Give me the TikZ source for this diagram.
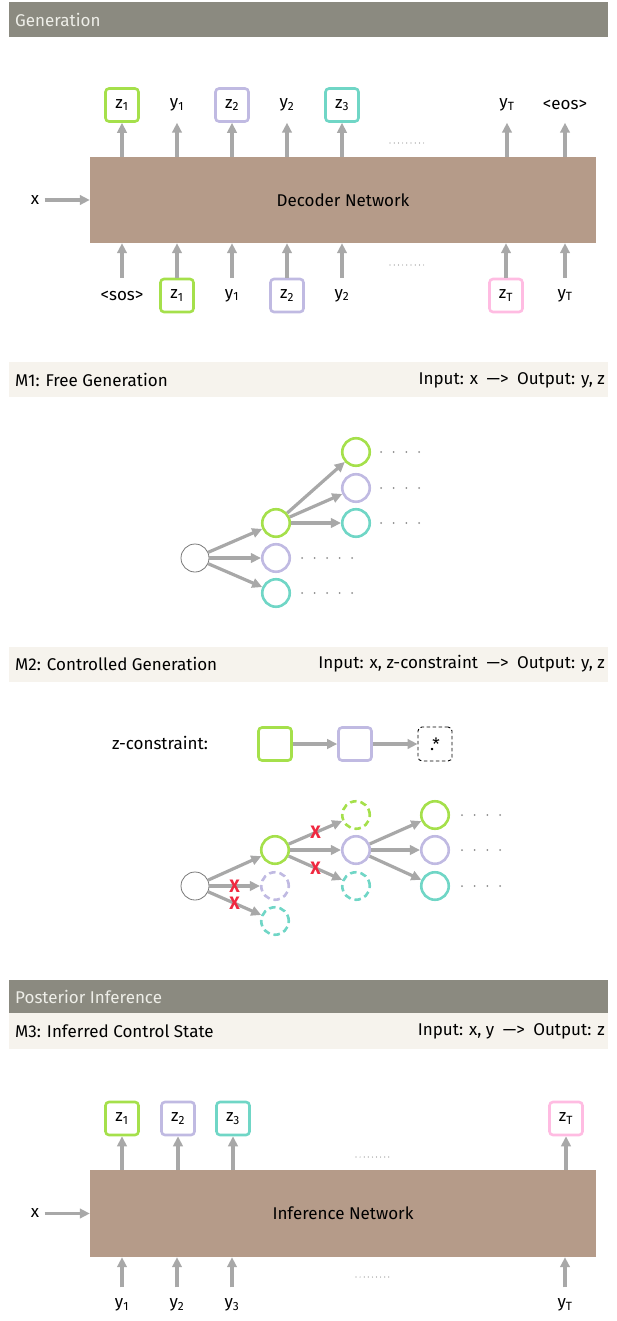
\documentclass[tikz,border=0pt]{standalone}
\usepackage{fontspec}
\setmainfont{Fira Sans}
\usetikzlibrary{arrows.meta}
\definecolor{hdark}{RGB}{139,138,128}
\definecolor{hlight}{RGB}{246,243,237}
\definecolor{htext}{RGB}{238,238,232}
\definecolor{netbrown}{RGB}{181,155,137}
\definecolor{arrgray}{RGB}{168,168,168}
\definecolor{dotgray}{RGB}{140,140,140}
\definecolor{rootgray}{RGB}{120,120,120}
\definecolor{zgreen}{RGB}{165,224,75}
\definecolor{zpurple}{RGB}{192,186,226}
\definecolor{zteal}{RGB}{112,214,198}
\definecolor{zpink}{RGB}{255,188,226}
\definecolor{xred}{RGB}{240,40,64}
\def\dotrow(#1,#2)(#3:#4:#5){\foreach \i in {1,...,#3} \fill[dotgray] ({#1+(\i-1)*#4},#2) circle[radius=#5pt];}
\tikzset{
  arr/.style={draw=arrgray, line width=3.2pt, -{Triangle[length=10pt,width=9.5pt]}},
  zbox/.style={draw=#1, line width=2.6pt, rounded corners=3.5pt, minimum width=33pt, minimum height=33pt, inner sep=0pt, fill=white},
  lbl/.style={minimum height=35pt, inner sep=0pt},
  net/.style={fill=netbrown, minimum width=506pt, inner sep=0pt},
  zc/.style={circle, draw=#1, line width=2.6pt, minimum size=27.5pt, inner sep=0pt},
  zcd/.style={zc=#1, dash pattern=on 6.5pt off 4pt},
  rootc/.style={circle, draw=rootgray, line width=0.8pt, minimum size=28pt, inner sep=0pt, fill=white},
  xmark/.style={text=xred, font=\fontsize{18}{18}\selectfont\bfseries, inner sep=0pt},
  barl/.style={anchor=west, inner sep=0pt},
  barr/.style={anchor=east, inner sep=0pt}
}
\begin{document}
\begin{tikzpicture}[x=1pt,y=-1pt,font=\fontsize{17}{20}\selectfont]
\useasboundingbox (0,0) rectangle (616,1321);

\fill[hdark] (9,2) rectangle (608,37);
\node[barl, text=htext] (genhd) at (15,20) {Generation};

\node[net, minimum height=86pt] (dec) at (343,200) {Decoder Network};
\node (dx) at (35,200) {x};
\draw[arr, shorten <=2pt] (dx) -- (dec);

\node[zbox=zgreen] (dz1) at (122,105) {z\textsubscript{1}};
\node[lbl] (dy1) at (177,105) {y\textsubscript{1}};
\node[zbox=zpurple] (dz2) at (232,105) {z\textsubscript{2}};
\node[lbl] (dy2) at (287,105) {y\textsubscript{2}};
\node[zbox=zteal] (dz3) at (342,105) {z\textsubscript{3}};
\node[lbl] (dyT) at (507,105) {y\textsubscript{T}};
\node[lbl] (deos) at (565,105) {<eos>};
\foreach \n in {dz1,dy1,dz2,dy2,dz3,dyT,deos} \draw[arr] (\n |- dec.north) -- (\n);

\node[lbl] (dsos) at (122,295.5) {<sos>};
\node[zbox=zgreen] (di1) at (177,295.5) {z\textsubscript{1}};
\node[lbl] (dj1) at (232,295.5) {y\textsubscript{1}};
\node[zbox=zpurple] (di2) at (287,295.5) {z\textsubscript{2}};
\node[lbl] (dj2) at (342,295.5) {y\textsubscript{2}};
\node[zbox=zpink] (diT) at (506,295.5) {z\textsubscript{T}};
\node[lbl] (djT) at (565,295.5) {y\textsubscript{T}};
\foreach \n in {dsos,di1,dj1,di2,dj2,diT,djT} \draw[arr] (\n) -- (\n |- dec.south);

\dotrow(390,143)(9:4.2:0.6)
\dotrow(390,265)(9:4.2:0.6)

\fill[hlight] (9,362) rectangle (608,397);
\node[barl] (m1l) at (15,380) {M1: Free Generation};
\node[barr] (m1r) at (605,380) {Input: x\enspace—>\enspace Output: y, z};

\node[rootc] (fr) at (195,558) {};
\node[zc=zgreen] (fg1) at (276,523) {};
\node[zc=zpurple] (fp1) at (276,558) {};
\node[zc=zteal] (ft1) at (276,593) {};
\node[zc=zgreen] (fg2) at (356,452) {};
\node[zc=zpurple] (fp2) at (356,488) {};
\node[zc=zteal] (ft2) at (356,523) {};
\draw[arr] (fr) -- (fg1);
\draw[arr] (fr) -- (fp1);
\draw[arr] (fr) -- (ft1);
\draw[arr] (fg1) -- (fg2);
\draw[arr] (fg1) -- (fp2);
\draw[arr] (fg1) -- (ft2);
\dotrow(302,558)(5:12.5:1)
\dotrow(302,593)(5:12.5:1)
\dotrow(381,452)(4:12.7:1)
\dotrow(381,488)(4:12.7:1)
\dotrow(381,523)(4:12.7:1)

\fill[hlight] (9,647) rectangle (608,682);
\node[barl] (m2l) at (15,664) {M2: Controlled Generation};
\node[barr] (m2r) at (605,664) {Input: x, z-constraint\enspace—>\enspace Output: y, z};

\node (zcl) at (160,743) {z-constraint:};
\node[zbox=zgreen] (cg) at (275,744) {};
\node[zbox=zpurple] (cp) at (355,744) {};
\node[draw=black, dash pattern=on 3.5pt off 2.5pt, line width=0.9pt, rounded corners=4pt, minimum width=34pt, minimum height=34pt, inner sep=0pt] (cd) at (435,744) {.*};
\draw[arr] (cg) -- (cp);
\draw[arr] (cp) -- (cd);

\node[rootc] (cr) at (195,886) {};
\node[zc=zgreen] (cg1) at (275,850) {};
\node[zcd=zpurple] (cp1) at (275,886) {};
\node[zcd=zteal] (ct1) at (275,921) {};
\node[zcd=zgreen] (cg2) at (356,815) {};
\node[zc=zpurple] (cp2) at (356,850) {};
\node[zcd=zteal] (ct2) at (356,886) {};
\node[zc=zgreen] (cg3) at (435,815) {};
\node[zc=zpurple] (cp3) at (435,850) {};
\node[zc=zteal] (ct3) at (435,886) {};
\draw[arr] (cr) -- (cg1);
\draw[arr] (cr) -- node[xmark] (xa) {X} (cp1);
\draw[arr] (cr) -- node[xmark] (xb) {X} (ct1);
\draw[arr] (cg1) -- node[xmark] (xc) {X} (cg2);
\draw[arr] (cg1) -- (cp2);
\draw[arr] (cg1) -- node[xmark] (xd) {X} (ct2);
\draw[arr] (cp2) -- (cg3);
\draw[arr] (cp2) -- (cp3);
\draw[arr] (cp2) -- (ct3);
\dotrow(462,815)(4:12.7:1)
\dotrow(462,850)(4:12.7:1)
\dotrow(462,886)(4:12.7:1)

\fill[hdark] (9,980) rectangle (608,1013);
\node[barl, text=htext] (pihd) at (15,997) {Posterior Inference};
\fill[hlight] (9,1013) rectangle (608,1049);
\node[barl] (m3l) at (15,1031) {M3: Inferred Control State};
\node[barr] (m3r) at (605,1031) {Input: x, y\enspace—>\enspace Output: z};

\node[net, minimum height=87pt] (inf) at (343,1213.5) {Inference Network};
\node (ix) at (35,1213.5) {x};
\draw[arr, shorten <=2pt] (ix) -- (inf);

\node[zbox=zgreen] (iz1) at (122,1118.5) {z\textsubscript{1}};
\node[zbox=zpurple] (iz2) at (178,1118.5) {z\textsubscript{2}};
\node[zbox=zteal] (iz3) at (233,1118.5) {z\textsubscript{3}};
\node[zbox=zpink] (izT) at (566,1118.5) {z\textsubscript{T}};
\foreach \n in {iz1,iz2,iz3,izT} \draw[arr] (\n |- inf.north) -- (\n);

\node[lbl] (iy1) at (122,1305) {y\textsubscript{1}};
\node[lbl] (iy2) at (177,1305) {y\textsubscript{2}};
\node[lbl] (iy3) at (232,1305) {y\textsubscript{3}};
\node[lbl] (iyT) at (565,1305) {y\textsubscript{T}};
\foreach \n in {iy1,iy2,iy3,iyT} \draw[arr] (\n) -- (\n |- inf.south);

\dotrow(356,1157)(9:4.1:0.6)
\dotrow(356,1277)(9:4.1:0.6)
\end{tikzpicture}
\end{document}
